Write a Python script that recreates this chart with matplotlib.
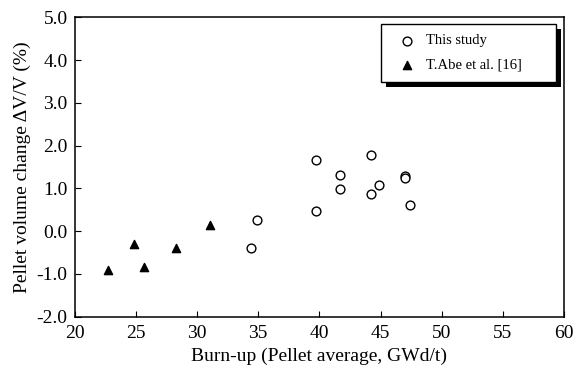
import matplotlib
matplotlib.use('Agg')
import matplotlib.pyplot as plt
from matplotlib.patches import Rectangle
import numpy as np

plt.rcParams['font.family'] = ['Liberation Serif', 'DejaVu Serif']

# This study
study_x = [39.75, 41.7, 41.7, 44.2, 44.9, 44.2, 47.0, 47.0, 47.4, 39.75, 34.9, 34.4]
study_y = [1.67, 1.32, 0.99, 1.77, 1.07, 0.88, 1.30, 1.25, 0.60, 0.48, 0.25, -0.39]

# T.Abe et al. [16]
abe_x = [22.75, 24.85, 25.7, 28.3, 31.1]
abe_y = [-0.91, -0.29, -0.85, -0.39, 0.14]

xticks = np.arange(20, 61, 5)
yticks = np.arange(-2, 5.1, 1)

fig = plt.figure(figsize=(5.78, 3.72), dpi=100)
ax = fig.add_axes([0.129, 0.149, 0.847, 0.804])

ax.scatter(study_x, study_y, s=40, facecolors='white', edgecolors='black',
           linewidths=1.0, marker='o', label='This study', zorder=3)
ax.scatter(abe_x, abe_y, s=35, color='black', marker='^',
           label='T.Abe et al. [16]', zorder=3)

ax.set_xlim(20, 60)
ax.set_ylim(-2, 5)
ax.set_xticks(xticks)
ax.set_yticks(yticks)
ax.set_yticklabels(['%.1f' % v for v in yticks])
ax.tick_params(direction='in', length=4, labelsize=14, width=0.8)
ax.tick_params(axis='x', pad=6)
ax.tick_params(axis='y', pad=5)
for sp in ax.spines.values():
    sp.set_linewidth(1.1)

ax.set_xlabel('Burn-up (Pellet average, GWd/t)', fontsize=14, labelpad=4)
ax.set_ylabel('Pellet volume change ΔV/V (%)', fontsize=14, labelpad=4)

leg = ax.legend(loc='upper left', bbox_to_anchor=(0.626, 0.2, 0.358, 0.778),
                mode='expand', fontsize=10.5,
                fancybox=False, edgecolor='black', framealpha=1,
                borderpad=0.7, labelspacing=0.75, handletextpad=0.2,
                borderaxespad=0, handlelength=2.2)
leg.get_frame().set_linewidth(1.0)
leg.set_zorder(5)

# hard black drop shadow behind the legend box
fig.canvas.draw()
bb = leg.get_frame().get_window_extent().transformed(fig.transFigure.inverted())
dx, dy = 4.5 / 578, 5.0 / 372
shadow = Rectangle((bb.x0 + dx, bb.y0 - dy), bb.width, bb.height,
                   transform=fig.transFigure, facecolor='black',
                   edgecolor='none', zorder=4)
ax.add_artist(shadow)
shadow.set_clip_on(False)

fig.savefig('out.png', dpi=100)
